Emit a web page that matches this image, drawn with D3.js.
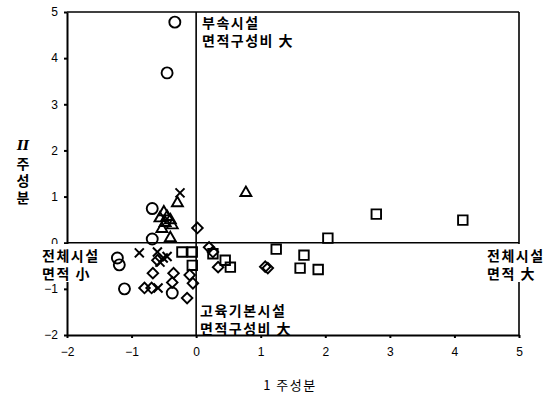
<!DOCTYPE html>
<html>
<head>
<meta charset="utf-8">
<script src="https://cdn.jsdelivr.net/npm/d3@7"></script>
<style>
  body { margin: 0; background: #fff; }
  svg { display: block; }
  .ko { font-family: 'Noto Sans CJK KR', sans-serif; }
</style>
</head>
<body>
<div id="chart"></div>
<script>
// data (component I, component II)
const circleX = [-0.33, -0.45, -0.68, -0.68, -1.22, -1.19, -1.11, -0.37];
const circleY = [4.78, 3.68, 0.74, 0.08, -0.33, -0.48, -1.0, -1.09];

const triangleX = [0.77, -0.29, -0.50, -0.45, -0.40, -0.48, -0.53, -0.40, -0.56, -0.37];
const triangleY = [1.08, 0.86, 0.66, 0.56, 0.49, 0.43, 0.30, 0.10, 0.53, 0.38];

const crossX = [-0.25, -0.88, -0.60, -0.51, -0.56, -0.45, -0.59];
const crossY = [1.08, -0.22, -0.20, -0.33, -0.42, -0.30, -0.98];

const diamondX = [0.02, 0.20, 0.26, 0.34, 1.07, 1.11, -0.67, -0.35, -0.37, -0.10, -0.05, -0.14, -0.80, -0.69, -0.60];
const diamondY = [0.32, -0.10, -0.20, -0.53, -0.52, -0.55, -0.66, -0.66, -0.86, -0.70, -0.88, -1.20, -0.98, -0.98, -0.38];

const squareX = [4.13, 2.79, 2.04, 1.67, 1.89, 1.61, 1.24, -0.22, -0.06, -0.06, 0.26, 0.45, 0.53];
const squareY = [0.49, 0.62, 0.10, -0.27, -0.58, -0.55, -0.14, -0.20, -0.20, -0.49, -0.24, -0.38, -0.53];

const xTicks = [-2, -1, 0, 1, 2, 3, 4, 5];
const yTicks = [-2, -1, 0, 1, 2, 3, 4, 5];

const width = 560, height = 395;
const plotLeft = 67, plotRight = 519, plotTop = 12, plotBottom = 335;

const svg = d3.select('#chart').append('svg')
  .attr('width', width)
  .attr('height', height);

const x = d3.scaleLinear().domain([-2, 5]).range([plotLeft, plotRight]);
const y = d3.scaleLinear().domain([-2, 5]).range([plotBottom, plotTop]);

// axes
const fmt = d => d < 0 ? '\u2212' + Math.abs(d) : String(d);
const xAxis = svg.append('g')
  .attr('transform', `translate(0,${plotBottom})`)
  .call(d3.axisBottom(x).tickValues(xTicks).tickFormat(fmt).tickSize(3).tickSizeOuter(0).tickPadding(9));
const yAxis = svg.append('g')
  .attr('transform', `translate(${plotLeft},0)`)
  .call(d3.axisLeft(y).tickValues(yTicks).tickFormat(fmt).tickSize(3).tickSizeOuter(0).tickPadding(6));

[xAxis, yAxis].forEach(g => {
  g.select('.domain').attr('stroke', '#000').attr('stroke-width', 2);
  g.selectAll('.tick line').attr('stroke', '#000').attr('stroke-width', 2);
  g.selectAll('.tick text')
    .attr('fill', '#000')
    .attr('font-family', 'Liberation Sans, Arial, sans-serif')
    .attr('font-size', 12);
});

// frame top + right
svg.append('line').attr('x1', plotLeft).attr('x2', plotRight).attr('y1', plotTop).attr('y2', plotTop)
  .attr('stroke', '#000').attr('stroke-width', 1.6);
svg.append('line').attr('x1', plotRight).attr('x2', plotRight).attr('y1', plotTop).attr('y2', plotBottom)
  .attr('stroke', '#000').attr('stroke-width', 1.6);

// zero lines
svg.append('line').attr('x1', x(0)).attr('x2', x(0)).attr('y1', plotTop).attr('y2', plotBottom)
  .attr('stroke', '#000').attr('stroke-width', 1.6);
svg.append('line').attr('x1', plotLeft).attr('x2', plotRight).attr('y1', y(0)).attr('y2', y(0))
  .attr('stroke', '#000').attr('stroke-width', 1.6);

// markers
const marks = svg.append('g')
  .attr('fill', 'none')
  .attr('stroke', '#000')
  .attr('stroke-width', 1.9);

function drawSymbol(xs, ys, type, size, rotate) {
  marks.selectAll(null)
    .data(xs.map((v, i) => [v, ys[i]]))
    .join('path')
    .attr('d', d3.symbol().type(type).size(size))
    .attr('transform', d => `translate(${x(d[0])},${y(d[1])}) rotate(${rotate || 0})`);
}

drawSymbol(circleX, circleY, d3.symbolCircle, 95);
drawSymbol(squareX, squareY, d3.symbolSquare, 90);
drawSymbol(diamondX, diamondY, d3.symbolSquare, 56, 45);
drawSymbol(triangleX, triangleY, d3.symbolTriangle, 52);

// crosses
marks.selectAll(null)
  .data(crossX.map((v, i) => [v, crossY[i]]))
  .join('path')
  .attr('d', d => {
    const cx = x(d[0]), cy = y(d[1]), r = 4.5;
    return `M${cx - r},${cy - r}L${cx + r},${cy + r}M${cx - r},${cy + r}L${cx + r},${cy - r}`;
  })
  .attr('stroke-width', 2);

// annotation labels (white behind, hiding the frame)
function label(lines, tx, ty, bg) {
  const g = svg.append('g');
  if (bg) {
    g.append('rect').attr('x', bg[0]).attr('y', bg[1]).attr('width', bg[2]).attr('height', bg[3])
      .attr('fill', '#fff');
  }
  lines.forEach((s, i) => {
    g.append('text')
      .attr('class', 'ko')
      .attr('x', tx).attr('y', ty + i * 17.5)
      .attr('font-size', 14)
      .attr('font-weight', 'bold')
      .attr('letter-spacing', 1.5)
      .attr('fill', '#000')
      .text(s);
  });
}

label(['부속시설', '면적구성비 大'], 202, 28);
label(['고육기본시설', '면적구성비 大'], 200, 316);
label(['전체시설', '면적 小'], 42, 261, [40, 244, 58, 38]);
label(['전체시설', '면적 大'], 487, 261, [485, 244, 75, 38]);

// axis titles
svg.append('text')
  .attr('class', 'ko')
  .attr('x', 290).attr('y', 390)
  .attr('text-anchor', 'middle')
  .attr('font-size', 13)
  .attr('letter-spacing', 1.5)
  .attr('fill', '#000')
  .text('1 주성분');

svg.append('text')
  .attr('x', 23).attr('y', 150)
  .attr('text-anchor', 'middle')
  .attr('font-family', 'DejaVu Serif, serif')
  .attr('font-style', 'italic')
  .attr('font-weight', 'bold')
  .attr('font-size', 13)
  .attr('fill', '#000')
  .text('II');

// vertical, upright hangul
svg.append('text')
  .attr('class', 'ko')
  .attr('x', 23).attr('y', 157)
  .style('writing-mode', 'vertical-rl')
  .style('text-orientation', 'upright')
  .attr('letter-spacing', 3)
  .attr('font-size', 14)
  .attr('font-weight', 'bold')
  .attr('fill', '#000')
  .text('주성분');
</script>
</body>
</html>
